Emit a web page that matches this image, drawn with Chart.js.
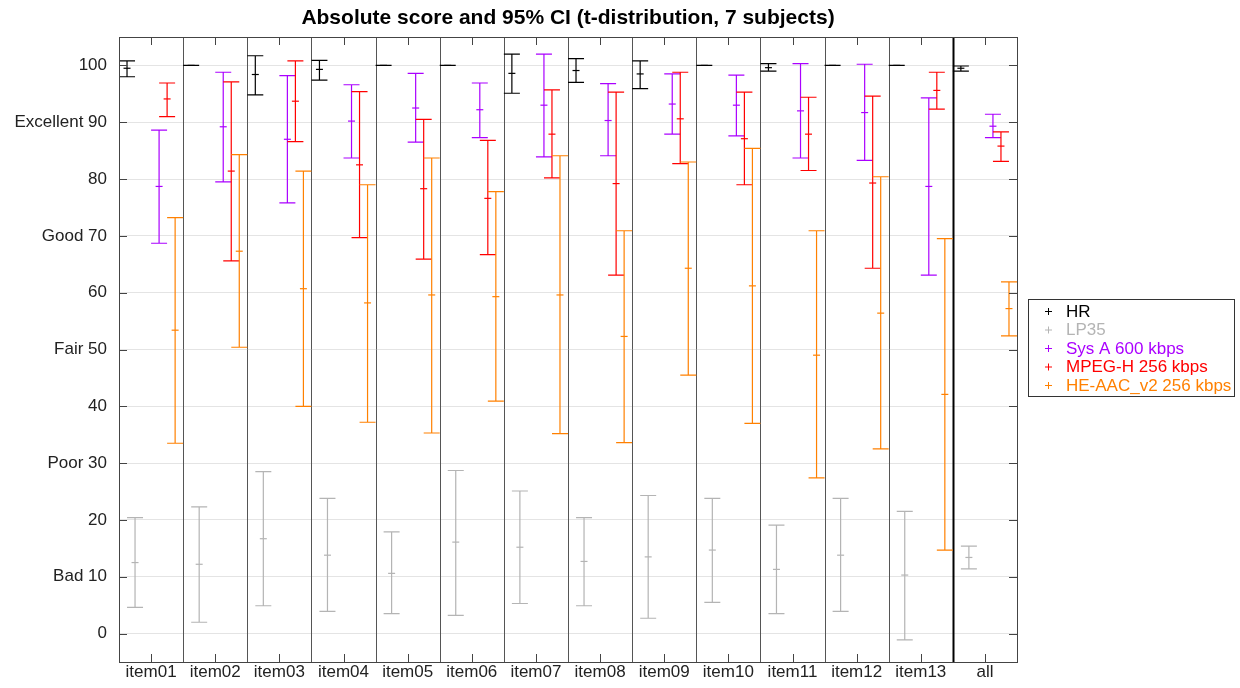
<!DOCTYPE html>
<html>
<head>
<meta charset="utf-8">
<script src="https://cdn.jsdelivr.net/npm/chart.js@4/dist/chart.umd.min.js"></script>
<style>
  html, body { margin: 0; padding: 0; background: #fff; }
  #wrap { width: 1240px; height: 688px; }
</style>
</head>
<body>
<div id="wrap"><canvas id="chart" width="1240" height="688"></canvas></div>
<script>
// data
const categories = ['item01', 'item02', 'item03', 'item04', 'item05', 'item06', 'item07',
  'item08', 'item09', 'item10', 'item11', 'item12', 'item13', 'all'];
const seriesNames = ['HR', 'LP35', 'Sys A 600 kbps', 'MPEG-H 256 kbps', 'HE-AAC_v2 256 kbps'];

const hrMean = [99.5, 100, 98.4, 99.3, 100, 100, 98.6, 99.1, 98.5, 100, 99.6, 100, 100, 99.5];
const hrLow  = [98.0, 100, 94.8, 97.4, 100, 100, 95.1, 97.0, 95.9, 100, 99.0, 100, 100, 99.0];
const hrHigh = [100.8, 100, 101.7, 100.9, 100, 100, 102.0, 101.2, 100.8, 100, 100.3, 100, 100, 99.9];

const lpMean = [12.5, 12.2, 16.7, 13.8, 10.6, 16.1, 15.2, 12.7, 13.5, 14.7, 11.3, 13.8, 10.3, 13.4];
const lpLow  = [4.6, 2.0, 4.9, 3.9, 3.5, 3.2, 5.3, 4.9, 2.7, 5.5, 3.5, 3.9, -1.1, 11.4];
const lpHigh = [20.4, 22.3, 28.5, 23.8, 17.9, 28.7, 25.1, 20.4, 24.3, 23.8, 19.1, 23.8, 21.5, 15.4];

const sysMean = [78.7, 89.2, 87.0, 90.2, 92.5, 92.2, 93.0, 90.3, 93.2, 93.0, 92.0, 91.7, 78.7, 89.3];
const sysLow  = [68.7, 79.5, 75.8, 83.7, 86.5, 87.3, 83.9, 84.1, 87.9, 87.6, 83.7, 83.3, 63.1, 87.3];
const sysHigh = [88.6, 98.8, 98.2, 96.6, 98.6, 96.9, 102.0, 96.8, 98.5, 98.3, 100.3, 100.2, 94.3, 91.4];

const mpegMean = [94.1, 81.4, 93.7, 82.5, 78.3, 76.6, 87.9, 79.2, 90.6, 87.1, 87.9, 79.3, 95.6, 85.8];
const mpegLow  = [91.0, 65.6, 86.6, 69.7, 65.9, 66.7, 80.2, 63.1, 82.7, 79.0, 81.5, 64.3, 92.3, 83.1];
const mpegHigh = [96.9, 97.1, 100.8, 95.4, 90.5, 86.8, 95.7, 95.3, 98.8, 95.3, 94.4, 94.6, 98.8, 88.3];

const aacMean = [53.4, 67.3, 60.7, 58.2, 59.6, 59.3, 59.6, 52.3, 64.3, 61.2, 49.0, 56.4, 42.1, 57.2];
const aacLow  = [33.5, 50.4, 40.0, 37.2, 35.3, 40.9, 35.2, 33.6, 45.5, 37.0, 27.4, 32.5, 14.7, 52.4];
const aacHigh = [73.2, 84.3, 81.4, 79.0, 83.7, 77.8, 84.1, 70.9, 83.0, 85.4, 70.9, 80.4, 69.5, 61.9];

const yTicks = [0, 10, 20, 30, 40, 50, 60, 70, 80, 90, 100];
const yTickLabels = ['0', 'Bad 10', '20', 'Poor 30', '40', 'Fair 50', '60', 'Good 70', '80', 'Excellent 90', '100'];

const titleText = 'Absolute score and 95% CI (t-distribution, 7 subjects)';

// style bits
const colors = ['#000000', '#b4b4b4', '#aa00ff', '#ff0000', '#ff8000'];
const offsets = [-0.375, -0.25, 0.125, 0.25, 0.375];
const FONT = '"Liberation Sans", Arial, Helvetica, sans-serif';

const allSeries = [
  [hrMean, hrLow, hrHigh],
  [lpMean, lpLow, lpHigh],
  [sysMean, sysLow, sysHigh],
  [mpegMean, mpegLow, mpegHigh],
  [aacMean, aacLow, aacHigh]
];

const datasets = allSeries.map((s, k) => ({
  label: seriesNames[k],
  data: s[0].map((m, i) => ({ x: i + 1 + offsets[k], y: m, lo: s[1][i], hi: s[2][i] })),
  borderColor: colors[k],
  backgroundColor: colors[k],
  pointStyle: 'line',
  pointRadius: 3.5,
  pointHoverRadius: 3.5,
  borderWidth: 1.2,
  showLine: false
}));

// frame, separators, inward ticks, error bars, title and legend
const decor = {
  id: 'decor',
  beforeDatasetsDraw(chart) {
    const { ctx, chartArea: a, scales: { x, y } } = chart;
    ctx.save();
    // category separators
    for (let i = 1; i < categories.length; i++) {
      const px = Math.round(x.getPixelForValue(i + 0.5)) + 0.5;
      const last = i === categories.length - 1;
      ctx.strokeStyle = last ? '#000' : '#555';
      ctx.lineWidth = last ? 2 : 1;
      ctx.beginPath(); ctx.moveTo(px, a.top); ctx.lineTo(px, a.bottom); ctx.stroke();
    }
    // error bars
    chart.data.datasets.forEach(ds => {
      ctx.strokeStyle = ds.borderColor;
      ctx.lineWidth = 1.2;
      ds.data.forEach(p => {
        const px = x.getPixelForValue(p.x);
        const yl = y.getPixelForValue(p.lo);
        const yh = y.getPixelForValue(p.hi);
        ctx.beginPath();
        ctx.moveTo(px, yl); ctx.lineTo(px, yh);
        ctx.moveTo(px - 8, yl); ctx.lineTo(px + 8, yl);
        ctx.moveTo(px - 8, yh); ctx.lineTo(px + 8, yh);
        ctx.stroke();
      });
    });
    ctx.restore();
  },
  afterDraw(chart) {
    const { ctx, chartArea: a, scales: { x, y } } = chart;
    ctx.save();
    ctx.strokeStyle = '#444';
    ctx.lineWidth = 1;
    ctx.strokeRect(Math.round(a.left) + 0.5, Math.round(a.top) + 0.5,
      Math.round(a.right - a.left), Math.round(a.bottom - a.top));
    ctx.beginPath();
    for (let i = 1; i <= categories.length; i++) {
      const px = Math.round(x.getPixelForValue(i)) + 0.5;
      ctx.moveTo(px, a.top); ctx.lineTo(px, a.top + 8);
      ctx.moveTo(px, a.bottom); ctx.lineTo(px, a.bottom - 8);
    }
    yTicks.forEach(v => {
      const py = Math.round(y.getPixelForValue(v)) + 0.5;
      ctx.moveTo(a.left, py); ctx.lineTo(a.left + 8, py);
      ctx.moveTo(a.right, py); ctx.lineTo(a.right - 8, py);
    });
    ctx.stroke();

    // title
    ctx.fillStyle = '#000';
    ctx.font = 'bold 21px ' + FONT;
    ctx.textAlign = 'center';
    ctx.textBaseline = 'middle';
    ctx.fillText(titleText, (a.left + a.right) / 2, 18);

    // legend
    const lx = 1028.5, ly = 299.5, lw = 206, lh = 97;
    ctx.fillStyle = '#fff';
    ctx.fillRect(lx, ly, lw, lh);
    ctx.strokeStyle = '#333';
    ctx.strokeRect(lx, ly, lw, lh);
    ctx.font = '17px ' + FONT;
    ctx.textAlign = 'left';
    chart.data.datasets.forEach((ds, k) => {
      const cy = 311 + k * 18.5;
      ctx.strokeStyle = ds.borderColor;
      ctx.beginPath();
      ctx.moveTo(1045, cy + 0.5); ctx.lineTo(1052, cy + 0.5);
      ctx.moveTo(1048.5, cy - 3); ctx.lineTo(1048.5, cy + 4);
      ctx.stroke();
      ctx.fillStyle = ds.borderColor;
      ctx.fillText(ds.label, 1066, cy + 1);
    });
    ctx.restore();
  }
};

const chart = new Chart(document.getElementById('chart').getContext('2d'), {
  type: 'scatter',
  data: { datasets },
  options: {
    responsive: false,
    animation: false,
    events: [],
    layout: { padding: { top: 37, right: 223, left: 0, bottom: 0 } },
    plugins: { legend: { display: false }, title: { display: false }, tooltip: { enabled: false } },
    scales: {
      x: {
        type: 'linear',
        min: 0.5,
        max: categories.length + 0.5,
        afterBuildTicks: s => { s.ticks = categories.map((c, i) => ({ value: i + 1 })); },
        afterFit: s => { s.height = 26; },
        grid: { display: false, drawTicks: false },
        border: { display: false },
        ticks: {
          autoSkip: false, maxRotation: 0, padding: 0,
          color: '#222', font: { family: FONT, size: 17 },
          callback: v => categories[Math.round(v) - 1]
        }
      },
      y: {
        min: -5,
        max: 105,
        afterBuildTicks: s => { s.ticks = yTicks.map(v => ({ value: v })); },
        afterFit: s => { s.width = 119; },
        grid: { color: '#e4e4e4', drawTicks: false, tickLength: 0 },
        border: { display: false },
        ticks: {
          padding: 12,
          color: '#222', font: { family: FONT, size: 17 },
          callback: v => yTickLabels[yTicks.indexOf(v)]
        }
      }
    }
  },
  plugins: [decor]
});
</script>
</body>
</html>
